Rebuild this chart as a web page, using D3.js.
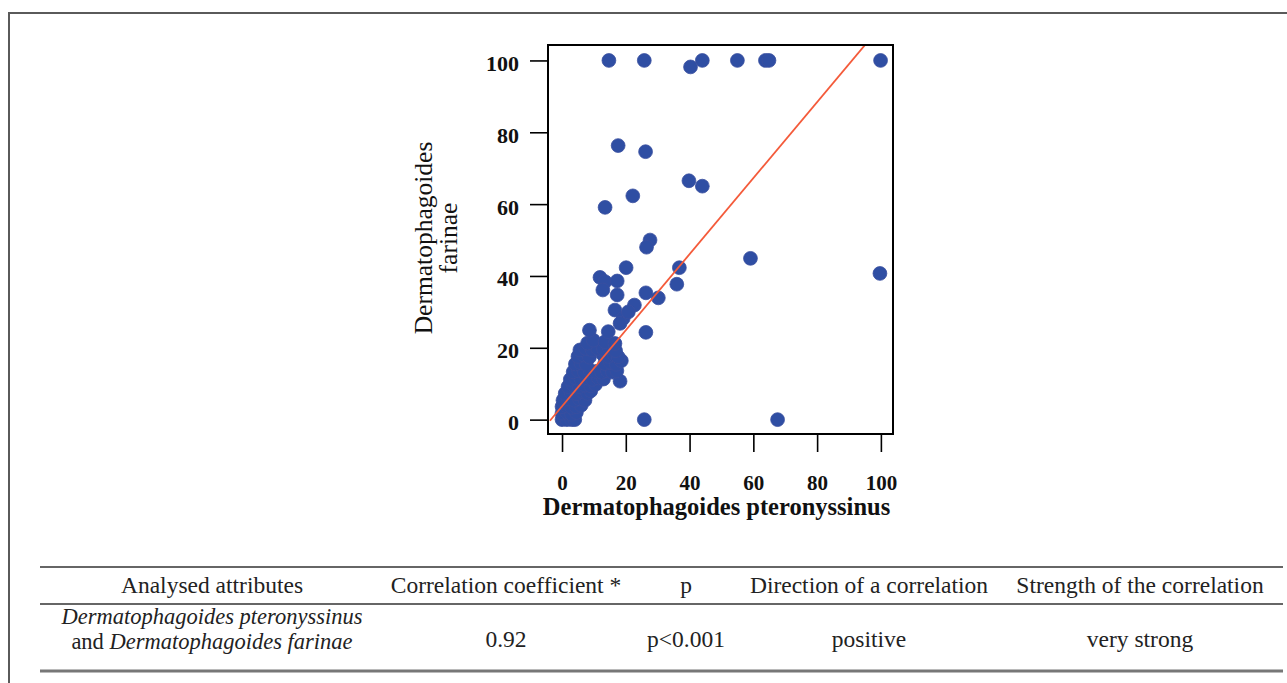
<!DOCTYPE html>
<html>
<head>
<meta charset="utf-8">
<script src="https://cdn.jsdelivr.net/npm/d3@7"></script>
<style>
  html, body { margin: 0; padding: 0; background: #fff; }
  svg { display: block; }
</style>
</head>
<body>
<svg id="chart" width="1287" height="683"></svg>
<script>
// ---------- data ----------
const xTicks = [0, 20, 40, 60, 80, 100];
const yTicks = [0, 20, 40, 60, 80, 100];
const xLabel = "Dermatophagoides pteronyssinus";
const yLabelLines = ["Dermatophagoides", "farinae"];

// D. pteronyssinus (x) values of each patient
const pteronyssinus = [
  // outliers / sparse points
  14.7, 25.8, 44, 55, 63.8, 64.9, 99.9, 40.3,
  17.6, 26.2, 39.8, 44, 22.2, 13.5,
  27.6, 26.5, 59.1, 99.7, 20.1, 36.8, 36,
  11.9, 13.5, 12.8, 17.3, 17.3, 26.3, 30.2,
  16.6, 19.2, 22.7, 20.8, 18.2, 26.3, 18.2, 25.8, 67.6,
  // dense cluster
  0, 1.5, 3, 4,
  0, 1.5, 3, 4.5,
  0, 1.5, 3, 4.5, 6,
  0.3, 2, 3.8, 5.5, 7.2,
  1, 2.8, 4.6, 6.4, 8, 9,
  1.9, 3.6, 5.4, 7.2, 9, 10.5,
  2.6, 4.3, 6, 7.8, 9.6, 11.4, 13,
  3.5, 5.2, 7, 8.8, 10.6, 12.4, 14.2, 15.8, 17.2,
  4.2, 5.9, 7.6, 13.4, 15.2, 17, 18.6,
  5, 6.8, 8.6, 12.8, 14.6, 16.4, 17.6,
  5.6, 7.4, 9.4, 11.2, 13, 14.8, 16.8,
  8, 9.8, 13.5, 16.6,
  8.6, 14.5
];
// D. farinae (y) values, same order
const farinae = [
  100, 100, 100, 100, 100, 100, 100, 98.2,
  76.3, 74.6, 66.5, 65, 62.3, 59.1,
  50, 48, 44.9, 40.7, 42.3, 42.3, 37.7,
  39.6, 38.4, 36.1, 38.6, 34.7, 35.3, 33.9,
  30.5, 28.2, 31.9, 30, 26.8, 24.3, 10.7, 0, 0,
  0, 0, 0, 0,
  1.8, 2, 1.5, 2,
  3.6, 3.8, 3.4, 3.6, 4,
  5.4, 5.8, 5.4, 5.8, 5.4,
  7.3, 7.6, 7.2, 7.8, 7.3, 8,
  9.2, 9.6, 9.2, 9.6, 9.4, 9.8,
  11.2, 11.6, 11.2, 11.6, 11.2, 11.6, 11.3,
  13.3, 13.6, 13.2, 13.6, 13.4, 13.2, 13.6, 13.2, 13.6,
  15.5, 15.8, 15.4, 15.6, 15.9, 15.4, 16.4,
  17.6, 18, 17.4, 18.2, 17.6, 18, 17.5,
  19.4, 19.8, 19.4, 19.8, 19.6, 20, 19.2,
  21.3, 22.1, 21.7, 21.2,
  24.9, 24.5
];
// fitted regression line end points (x, y)
const fitX = [-3.8, 95.3];
const fitY = [-0.3, 104.6];

// table
const tableHeaders = ["Analysed attributes", "Correlation coefficient *", "p", "Direction of a correlation", "Strength of the correlation"];
const rowValues = ["0.92", "p<0.001", "positive", "very strong"];

// ---------- drawing ----------
const svg = d3.select("#chart");
const serif = "'Liberation Serif', 'Times New Roman', serif";

// outer frame
svg.append("path")
  .attr("d", "M9,683 L9,13 L1287,13")
  .attr("fill", "none").attr("stroke", "#5a5a5a").attr("stroke-width", 2);

const plot = { left: 548, right: 893, top: 45, bottom: 434 };
const x = d3.scaleLinear().domain([-4.4, 103.8]).range([plot.left, plot.right]);
const y = d3.scaleLinear().domain([-4, 104.3]).range([plot.bottom, plot.top]);

// y axis
const yAxis = svg.append("g")
  .attr("transform", `translate(${plot.left},0)`)
  .call(d3.axisLeft(y).tickValues(yTicks).tickSize(18).tickSizeOuter(0).tickPadding(11));
yAxis.select(".domain").remove();
yAxis.selectAll(".tick line").attr("stroke", "#000").attr("stroke-width", 1.6);
yAxis.selectAll(".tick text")
  .attr("font-family", serif).attr("font-size", 22).attr("font-weight", "bold")
  .attr("fill", "#111").attr("dy", "0.45em");

// x axis
const xAxis = svg.append("g")
  .attr("transform", `translate(0,${plot.bottom})`)
  .call(d3.axisBottom(x).tickValues(xTicks).tickSize(18).tickSizeOuter(0));
xAxis.select(".domain").remove();
xAxis.selectAll(".tick line").attr("stroke", "#000").attr("stroke-width", 1.6);
xAxis.selectAll(".tick text")
  .attr("font-family", serif).attr("font-size", 21).attr("font-weight", "bold")
  .attr("fill", "#111").attr("y", 56).attr("dy", 0);

// clip
svg.append("clipPath").attr("id", "clip")
  .append("rect").attr("x", plot.left).attr("y", plot.top)
  .attr("width", plot.right - plot.left).attr("height", plot.bottom - plot.top);

// points
const pts = pteronyssinus.map((v, i) => ({ x: v, y: farinae[i] }));
svg.append("g").attr("clip-path", "url(#clip)")
  .selectAll("circle").data(pts).join("circle")
  .attr("cx", d => x(d.x)).attr("cy", d => y(d.y)).attr("r", 6.9)
  .attr("fill", "#2f4ea3").attr("stroke", "#3a4fa0").attr("stroke-width", 0.8);

// regression line
const fit = fitX.map((v, i) => ({ x: v, y: fitY[i] }));
svg.append("path").attr("clip-path", "url(#clip)")
  .datum(fit)
  .attr("d", d3.line().x(d => x(d.x)).y(d => y(d.y)))
  .attr("fill", "none").attr("stroke", "#f45a3a").attr("stroke-width", 1.8);

// frame
svg.append("rect")
  .attr("x", plot.left).attr("y", plot.top)
  .attr("width", plot.right - plot.left).attr("height", plot.bottom - plot.top)
  .attr("fill", "none").attr("stroke", "#000").attr("stroke-width", 2);

// axis labels
svg.append("text")
  .attr("x", (plot.left + plot.right) / 2 - 4).attr("y", 515)
  .attr("text-anchor", "middle")
  .attr("font-family", serif).attr("font-size", 24.5).attr("font-weight", "bold").attr("fill", "#111")
  .text(xLabel);

const yl = svg.append("g").attr("transform", "translate(0,238) rotate(-90)");
yl.selectAll("text").data(yLabelLines).join("text")
  .attr("x", 0).attr("y", (d, i) => i === 0 ? 432 : 457)
  .attr("text-anchor", "middle")
  .attr("font-family", serif).attr("font-size", 25.5).attr("fill", "#111")
  .text(d => d);

// ---------- table ----------
const colCenters = [212, 506, 686, 869, 1140];
const tbl = svg.append("g").attr("font-family", serif).attr("font-size", 23.5).attr("fill", "#222");
tbl.append("line").attr("x1", 40).attr("x2", 1283).attr("y1", 567).attr("y2", 567)
  .attr("stroke", "#333").attr("stroke-width", 1.5);
tbl.append("line").attr("x1", 40).attr("x2", 1283).attr("y1", 604).attr("y2", 604)
  .attr("stroke", "#333").attr("stroke-width", 1.5);
tbl.append("line").attr("x1", 40).attr("x2", 1283).attr("y1", 671).attr("y2", 671)
  .attr("stroke", "#777").attr("stroke-width", 3);

tbl.selectAll("text.h").data(tableHeaders).join("text").attr("class", "h")
  .attr("x", (d, i) => colCenters[i]).attr("y", 593).attr("text-anchor", "middle")
  .text(d => d);

const t1 = tbl.append("text").attr("x", colCenters[0]).attr("y", 624)
  .attr("text-anchor", "middle").attr("font-size", 22.5);
t1.append("tspan").attr("font-style", "italic").text("Dermatophagoides pteronyssinus");
const t2 = tbl.append("text").attr("x", colCenters[0]).attr("y", 649)
  .attr("text-anchor", "middle").attr("font-size", 22.5);
t2.append("tspan").text("and ");
t2.append("tspan").attr("font-style", "italic").text("Dermatophagoides farinae");

tbl.selectAll("text.v").data(rowValues).join("text").attr("class", "v")
  .attr("x", (d, i) => colCenters[i + 1]).attr("y", 647).attr("text-anchor", "middle")
  .text(d => d);
</script>
</body>
</html>
